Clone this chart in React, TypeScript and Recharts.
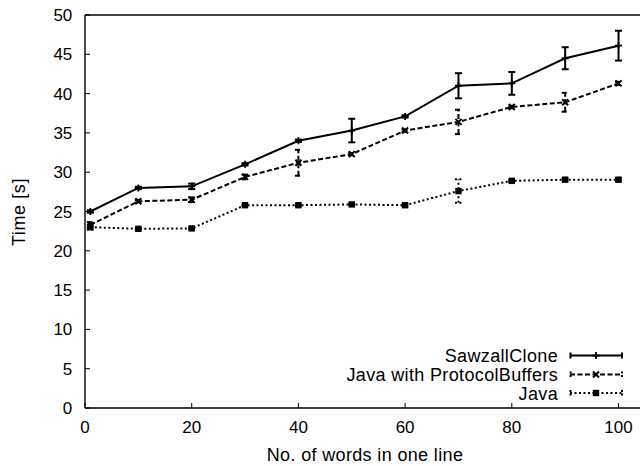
import React from 'react';
import { LineChart, Line, XAxis, YAxis, ErrorBar, Customized } from 'recharts';

const FONT = '"Liberation Sans", Arial, Helvetica, sans-serif';

const xValues = [1, 10, 20, 30, 40, 50, 60, 70, 80, 90, 100];
const sawzallTime = [25.0, 28.0, 28.2, 31.0, 34.0, 35.3, 37.1, 41.0, 41.3, 44.5, 46.1];
const sawzallErr = [0.15, 0.15, 0.35, 0.15, 0.15, 1.5, 0.15, 1.6, 1.45, 1.4, 1.9];
const pbTime = [23.3, 26.3, 26.5, 29.4, 31.2, 32.3, 35.3, 36.4, 38.3, 38.9, 41.3];
const pbErr = [0.35, 0.15, 0.3, 0.3, 1.65, 0.15, 0.15, 1.55, 0.15, 1.2, 0.2];
const javaTime = [23.0, 22.8, 22.85, 25.8, 25.8, 25.9, 25.8, 27.6, 28.9, 29.05, 29.05];
const javaErr = [0.3, 0.1, 0.1, 0.1, 0.1, 0.1, 0.1, 1.5, 0.15, 0.2, 0.2];

const xTicks = [0, 20, 40, 60, 80, 100];
const yTicks = [0, 5, 10, 15, 20, 25, 30, 35, 40, 45, 50];

const seriesNames = ['SawzallClone', 'Java with ProtocolBuffers', 'Java'];
const xTitle = 'No. of words in one line';
const yTitle = 'Time [s]';

const data = xValues.map((x, i) => ({
  x,
  sawzall: sawzallTime[i],
  sawzallErr: sawzallErr[i],
  pb: pbTime[i],
  pbErr: pbErr[i],
  java: javaTime[i],
  javaErr: javaErr[i],
}));

const DASH_PB = '5 2.5';
const DASH_JAVA = '2 2.5';

const plusMark = (cx: number, cy: number, key?: any) => (
  <path key={key} d={`M${cx - 3.5},${cy}H${cx + 3.5}M${cx},${cy - 3.5}V${cy + 3.5}`} stroke="#000" strokeWidth={1.8} fill="none" />
);
const crossMark = (cx: number, cy: number, key?: any) => (
  <path key={key} d={`M${cx - 3},${cy - 3}L${cx + 3},${cy + 3}M${cx - 3},${cy + 3}L${cx + 3},${cy - 3}`} stroke="#000" strokeWidth={2} fill="none" />
);
const squareMark = (cx: number, cy: number, key?: any) => (
  <rect key={key} x={cx - 3.2} y={cy - 3.2} width={6.4} height={6.4} fill="#000" />
);

const PlusDot = (p: any) => (p.cx == null ? <g key={p.key} /> : plusMark(p.cx, p.cy, p.key));
const CrossDot = (p: any) => (p.cx == null ? <g key={p.key} /> : crossMark(p.cx, p.cy, p.key));
const SquareDot = (p: any) => (p.cx == null ? <g key={p.key} /> : squareMark(p.cx, p.cy, p.key));

const Decor = () => {
  const rows = [
    { name: seriesNames[0], y: 355.5, dash: undefined as string | undefined, mark: plusMark },
    { name: seriesNames[1], y: 374.5, dash: DASH_PB, mark: crossMark },
    { name: seriesNames[2], y: 393, dash: DASH_JAVA, mark: squareMark },
  ];
  return (
    <g fontFamily={FONT}>
      {rows.map((r) => (
        <g key={r.name}>
          <text x={558} y={r.y + 6.5} textAnchor="end" fontSize={18} letterSpacing={0.35} fill="#000">
            {r.name}
          </text>
          <line x1={570} y1={r.y} x2={622.5} y2={r.y} stroke="#000" strokeWidth={2} strokeDasharray={r.dash} />
          <line x1={570.5} y1={r.y - 3} x2={570.5} y2={r.y + 3} stroke="#000" strokeWidth={2} strokeDasharray={r.dash ? '2 1.5' : undefined} />
          <line x1={622} y1={r.y - 3} x2={622} y2={r.y + 3} stroke="#000" strokeWidth={2} strokeDasharray={r.dash ? '2 1.5' : undefined} />
          {r.mark(596, r.y)}
        </g>
      ))}
      <text x={365} y={461} textAnchor="middle" fontSize={18} letterSpacing={0.35} fill="#000">
        {xTitle}
      </text>
      <text x={25} y={212} transform="rotate(-90, 25, 212)" textAnchor="middle" fontSize={18} letterSpacing={0.6} fill="#000">
        {yTitle}
      </text>
    </g>
  );
};

const tickStyle = { fill: '#000', fontSize: 17, fontFamily: FONT };
const axisLine = { stroke: '#000', strokeWidth: 1.4 };
const tickLine = { stroke: '#000', strokeWidth: 1 };

export default function App() {
  return (
    <div style={{ position: 'absolute', left: 0, top: 0, width: 640, height: 466, overflow: 'hidden', background: '#fff' }}>
      <LineChart
        width={643}
        height={466}
        data={data}
        margin={{ top: 14, right: 0, bottom: 0, left: 0 }}
        style={{ fontFamily: FONT }}
      >
        <XAxis
          dataKey="x"
          type="number"
          domain={[0, 104.4]}
          ticks={xTicks}
          allowDataOverflow
          height={58}
          tickSize={-5}
          tickMargin={18.4}
          tick={tickStyle}
          axisLine={axisLine}
          tickLine={tickLine}
        />
        <XAxis
          xAxisId="top"
          orientation="top"
          dataKey="x"
          type="number"
          domain={[0, 104.4]}
          ticks={xTicks}
          allowDataOverflow
          height={1}
          tickSize={-5}
          tick={false}
          axisLine={axisLine}
          tickLine={tickLine}
        />
        <YAxis
          type="number"
          domain={[0, 50]}
          ticks={yTicks}
          width={85}
          tickSize={-5}
          tickMargin={17.7}
          tick={tickStyle}
          axisLine={axisLine}
          tickLine={tickLine}
          interval={0}
        />
        <YAxis
          yAxisId="right"
          orientation="right"
          type="number"
          domain={[0, 50]}
          ticks={yTicks}
          width={1}
          tickSize={-5}
          tick={false}
          axisLine={axisLine}
          tickLine={tickLine}
          interval={0}
        />
        <Line
          dataKey="java"
          stroke="#000"
          strokeWidth={2}
          strokeDasharray={DASH_JAVA}
          dot={SquareDot}
          activeDot={false}
          isAnimationActive={false}
        >
          <ErrorBar dataKey="javaErr" width={3.5} stroke="#000" strokeWidth={2} strokeDasharray={DASH_JAVA} direction="y" />
        </Line>
        <Line
          dataKey="pb"
          stroke="#000"
          strokeWidth={2}
          strokeDasharray={DASH_PB}
          dot={CrossDot}
          activeDot={false}
          isAnimationActive={false}
        >
          <ErrorBar dataKey="pbErr" width={3.5} stroke="#000" strokeWidth={2} strokeDasharray={DASH_PB} direction="y" />
        </Line>
        <Line
          dataKey="sawzall"
          stroke="#000"
          strokeWidth={2}
          dot={PlusDot}
          activeDot={false}
          isAnimationActive={false}
        >
          <ErrorBar dataKey="sawzallErr" width={3.5} stroke="#000" strokeWidth={2} direction="y" />
        </Line>
        <Customized component={Decor} />
      </LineChart>
    </div>
  );
}
